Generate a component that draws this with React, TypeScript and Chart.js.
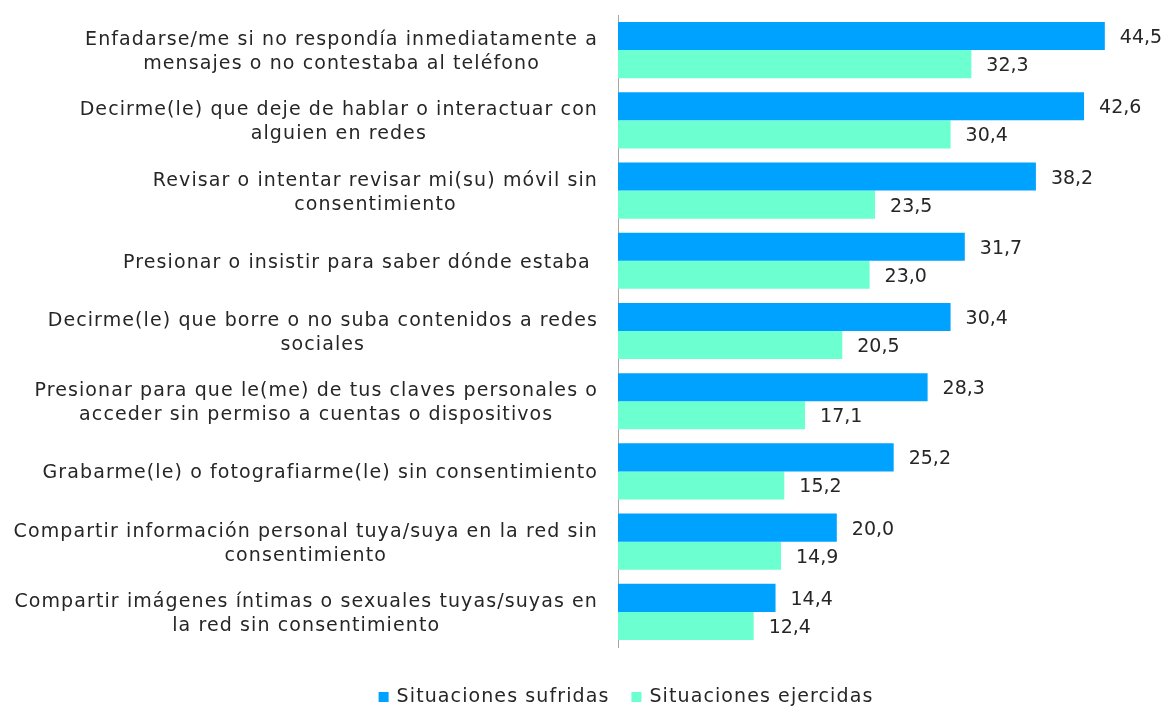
import React, { useEffect, useRef } from 'react';
import { Chart, registerables } from 'chart.js';

Chart.register(...registerables);

const categories: (string | string[])[] = [
  ['Enfadarse/me si no respondía inmediatamente a', 'mensajes o no contestaba al teléfono'],
  ['Decirme(le) que deje de hablar o interactuar con', 'alguien en redes'],
  ['Revisar o intentar revisar mi(su) móvil sin', 'consentimiento'],
  'Presionar o insistir para saber dónde estaba ',
  ['Decirme(le) que borre o no suba contenidos a redes', 'sociales'],
  ['Presionar para que le(me) de tus claves personales o', 'acceder sin permiso a cuentas o dispositivos'],
  'Grabarme(le) o fotografiarme(le) sin consentimiento',
  ['Compartir información personal tuya/suya en la red sin', 'consentimiento'],
  ['Compartir imágenes íntimas o sexuales tuyas/suyas en', 'la red sin consentimiento'],
];

const sufridas = [44.5, 42.6, 38.2, 31.7, 30.4, 28.3, 25.2, 20.0, 14.4];
const ejercidas = [32.3, 30.4, 23.5, 23.0, 20.5, 17.1, 15.2, 14.9, 12.4];

const seriesNames = ['Situaciones sufridas', 'Situaciones ejercidas'];
const seriesColors = ['#00A2FF', '#6CFFD0'];

const FONT = '"DejaVu Sans", sans-serif';
const TEXT_COLOR = '#262626';
const AXIS_COLOR = '#A6A6A6';

const fmt = (v: number) => v.toFixed(1).replace('.', ',');

const customText = {
  id: 'customText',
  afterDatasetsDraw(chart: any) {
    const ctx: CanvasRenderingContext2D = chart.ctx;
    ctx.save();
    ctx.font = `19px ${FONT}`;
    ctx.fillStyle = TEXT_COLOR;
    ctx.textAlign = 'left';
    ctx.textBaseline = 'alphabetic';
    chart.data.datasets.forEach((ds: any, di: number) => {
      const meta = chart.getDatasetMeta(di);
      meta.data.forEach((el: any, i: number) => {
        ctx.fillText(fmt(ds.data[i]), el.x + 15, el.y + 7);
      });
    });
    ctx.restore();
  },
  afterDraw(chart: any) {
    const ctx: CanvasRenderingContext2D = chart.ctx;
    const yScale = chart.scales.y;
    const area = chart.chartArea;
    ctx.save();
    ctx.font = `19px ${FONT}`;
    (ctx as any).letterSpacing = '1.1px';
    ctx.fillStyle = TEXT_COLOR;
    ctx.textBaseline = 'alphabetic';
    ctx.textAlign = 'center';
    const right = area.left - 20;
    const lh = 24;
    chart.data.labels.forEach((lab: any, i: number) => {
      const lines: string[] = Array.isArray(lab) ? lab : [lab];
      const widest = Math.max(...lines.map((l) => ctx.measureText(l).width));
      const cx = right - widest / 2;
      const yc = yScale.getPixelForValue(i);
      lines.forEach((l, j) => {
        const y = yc + (j - (lines.length - 1) / 2) * lh + 7;
        ctx.fillText(l, cx, y);
      });
    });

    // legend
    ctx.textAlign = 'left';
    const box = 10;
    const gap = 8;
    const itemGap = 22;
    const items = chart.data.datasets.map((ds: any) => ({
      text: ds.label as string,
      color: ds.backgroundColor as string,
      w: ctx.measureText(ds.label).width,
    }));
    const total = items.reduce((s: number, it: any) => s + box + gap + it.w, 0) + itemGap * (items.length - 1);
    let x = 626 - total / 2;
    const baseline = 702;
    items.forEach((it: any) => {
      ctx.fillStyle = it.color;
      ctx.fillRect(x, baseline - 10, box, box);
      ctx.fillStyle = TEXT_COLOR;
      ctx.fillText(it.text, x + box + gap, baseline);
      x += box + gap + it.w + itemGap;
    });
    ctx.restore();
  },
};

export default function App() {
  const ref = useRef<HTMLCanvasElement | null>(null);
  useEffect(() => {
    if (!ref.current) return;
    const chart = new Chart(ref.current, {
      type: 'bar',
      data: {
        labels: categories as any,
        datasets: [
          {
            label: seriesNames[0],
            data: sufridas,
            backgroundColor: seriesColors[0],
            barPercentage: 1,
            categoryPercentage: 0.8,
          },
          {
            label: seriesNames[1],
            data: ejercidas,
            backgroundColor: seriesColors[1],
            barPercentage: 1,
            categoryPercentage: 0.8,
          },
        ],
      },
      options: {
        indexAxis: 'y',
        responsive: false,
        animation: false,
        layout: { padding: { top: 15, right: 2, bottom: 60, left: 0 } },
        plugins: {
          legend: { display: false },
          tooltip: { enabled: false },
        },
        scales: {
          x: { display: false, min: 0, max: 50 },
          y: {
            ticks: { display: false },
            grid: { display: false },
            border: { display: true, color: AXIS_COLOR, width: 1 },
            afterFit: (s: any) => {
              s.width = 618;
            },
          },
        },
      },
      plugins: [customText],
    });
    return () => chart.destroy();
  }, []);
  return (
    <div style={{ position: 'fixed', left: 0, top: 0, width: 1167, height: 707, background: '#fff' }}>
      <canvas ref={ref} width={1167} height={707} style={{ display: 'block' }} />
    </div>
  );
}
